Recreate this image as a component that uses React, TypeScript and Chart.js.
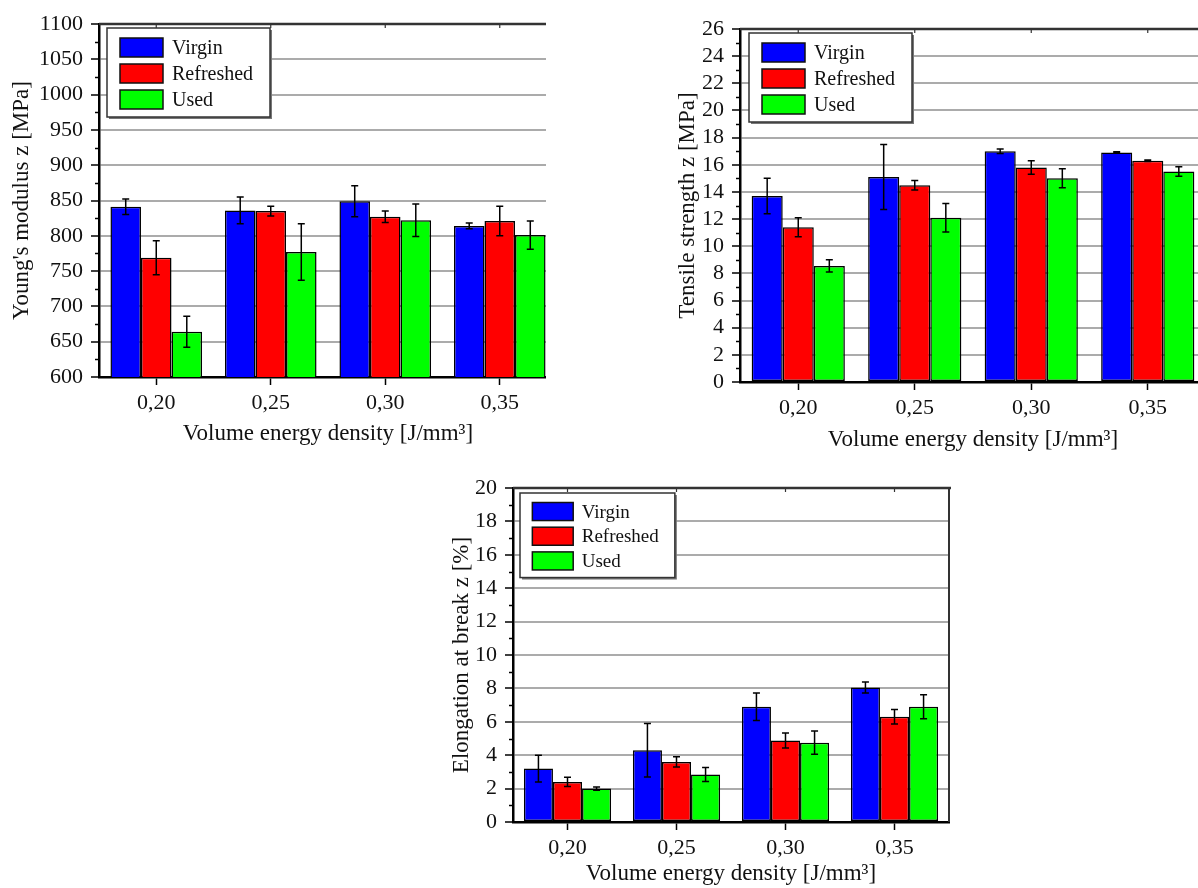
import React, { useEffect, useRef } from 'react';
import { Chart, registerables } from 'chart.js';

Chart.register(...registerables);

// ---- data ----
const categories = ['0,20', '0,25', '0,30', '0,35'];
const seriesNames = ['Virgin', 'Refreshed', 'Used'];
const seriesColors = ['#0000ff', '#ff0000', '#00ff00'];
const xTitle = 'Volume energy density [J/mm³]';

// Young's modulus [MPa]
const modulusVirgin = [841, 836, 849, 814];
const modulusRefreshed = [769, 835, 827, 821];
const modulusUsed = [664, 777, 822, 801];
const modulusVirginErr = [11, 19, 22, 4];
const modulusRefreshedErr = [24, 7, 8, 21];
const modulusUsedErr = [22, 40, 23, 20];

// Tensile strength [MPa]
const tensileVirgin = [13.7, 15.1, 17.0, 16.9];
const tensileRefreshed = [11.4, 14.5, 15.8, 16.3];
const tensileUsed = [8.55, 12.1, 15.0, 15.5];
const tensileVirginErr = [1.3, 2.4, 0.17, 0.05];
const tensileRefreshedErr = [0.7, 0.35, 0.5, 0.05];
const tensileUsedErr = [0.45, 1.05, 0.7, 0.35];

// Elongation at break [%]
const elongVirgin = [3.2, 4.3, 6.9, 8.05];
const elongRefreshed = [2.4, 3.6, 4.88, 6.3];
const elongUsed = [2.0, 2.85, 4.75, 6.9];
const elongVirginErr = [0.8, 1.6, 0.82, 0.33];
const elongRefreshedErr = [0.28, 0.3, 0.45, 0.43];
const elongUsedErr = [0.1, 0.42, 0.7, 0.72];

const FONT = "'Liberation Serif', 'Times New Roman', serif";
const TEXT = '#111111';

type Panel = {
  key: string;
  left: number;
  top: number;
  width: number;
  height: number;
  clipWidth: number;
  yAxisWidth: number;
  xAxisHeight: number;
  padTop: number;
  padRight: number;
  yTitle: string;
  yMin: number;
  yMax: number;
  yStep: number;
  values: number[][];
  errors: number[][];
  rightFrame: boolean;
  legendScale: number;
  legendOffset: [number, number];
};

const panels: Panel[] = [
  {
    key: 'modulus',
    left: 8, top: 8, width: 553, height: 440, clipWidth: 538,
    yAxisWidth: 91, xAxisHeight: 71, padTop: 16, padRight: 4,
    yTitle: "Young's modulus z [MPa]",
    yMin: 600, yMax: 1100, yStep: 50,
    values: [modulusVirgin, modulusRefreshed, modulusUsed],
    errors: [modulusVirginErr, modulusRefreshedErr, modulusUsedErr],
    rightFrame: false, legendScale: 1, legendOffset: [8, 4],
  },
  {
    key: 'tensile',
    left: 674, top: 13, width: 536, height: 441, clipWidth: 524,
    yAxisWidth: 66, xAxisHeight: 72, padTop: 16, padRight: 4,
    yTitle: 'Tensile strength z [MPa]',
    yMin: 0, yMax: 26, yStep: 2,
    values: [tensileVirgin, tensileRefreshed, tensileUsed],
    errors: [tensileVirginErr, tensileRefreshedErr, tensileUsedErr],
    rightFrame: false, legendScale: 1, legendOffset: [9, 4],
  },
  {
    key: 'elongation',
    left: 448, top: 472, width: 505, height: 416, clipWidth: 505,
    yAxisWidth: 65, xAxisHeight: 66, padTop: 16, padRight: 4,
    yTitle: 'Elongation at break z [%]',
    yMin: 0, yMax: 20, yStep: 2,
    values: [elongVirgin, elongRefreshed, elongUsed],
    errors: [elongVirginErr, elongRefreshedErr, elongUsedErr],
    rightFrame: true, legendScale: 0.95, legendOffset: [7, 5],
  },
];

// Error bars, minor ticks, frame lines and the boxed legend inside the plot.
const panelDecor = {
  id: 'panelDecor',
  afterDatasetsDraw(chart: any, _args: any, opts: any) {
    const { ctx } = chart;
    const yScale = chart.scales.y;
    ctx.save();
    ctx.strokeStyle = '#000';
    ctx.lineWidth = 1.5;
    chart.data.datasets.forEach((_ds: any, di: number) => {
      const meta = chart.getDatasetMeta(di);
      const errs: number[] = opts.errors[di];
      meta.data.forEach((bar: any, i: number) => {
        const v = chart.data.datasets[di].data[i] as number;
        const e = errs[i];
        const yt = yScale.getPixelForValue(v + e);
        const yb = yScale.getPixelForValue(v - e);
        const x = bar.x;
        const cap = 3.5;
        ctx.beginPath();
        ctx.moveTo(x, yt);
        ctx.lineTo(x, yb);
        ctx.moveTo(x - cap, yt);
        ctx.lineTo(x + cap, yt);
        ctx.moveTo(x - cap, yb);
        ctx.lineTo(x + cap, yb);
        ctx.stroke();
      });
    });
    ctx.restore();
  },
  afterDraw(chart: any, _args: any, opts: any) {
    const { ctx, chartArea: a } = chart;
    const yScale = chart.scales.y;
    const xScale = chart.scales.x;
    ctx.save();

    // minor ticks on the value axis
    ctx.strokeStyle = '#000';
    ctx.lineWidth = 1.5;
    for (let v = opts.yMin + opts.yStep / 2; v < opts.yMax; v += opts.yStep) {
      const y = Math.round(yScale.getPixelForValue(v)) + 0.5;
      ctx.beginPath();
      ctx.moveTo(a.left - 4, y);
      ctx.lineTo(a.left, y);
      ctx.stroke();
    }

    // top frame with small category ticks
    ctx.strokeStyle = '#333';
    ctx.lineWidth = 2.5;
    ctx.beginPath();
    ctx.moveTo(a.left, a.top);
    ctx.lineTo(a.right + 2, a.top);
    ctx.stroke();
    ctx.lineWidth = 1.2;
    categories.forEach((_c, i) => {
      const x = xScale.getPixelForValue(i);
      ctx.beginPath();
      ctx.moveTo(x, a.top);
      ctx.lineTo(x, a.top + 4);
      ctx.stroke();
    });

    if (opts.rightFrame) {
      ctx.strokeStyle = '#333';
      ctx.lineWidth = 2;
      ctx.beginPath();
      ctx.moveTo(a.right, a.top);
      ctx.lineTo(a.right, a.bottom);
      ctx.stroke();
    }

    // legend box
    const s = opts.legendScale;
    const bx = a.left + opts.legendOffset[0];
    const by = a.top + opts.legendOffset[1];
    const bw = 163 * s;
    const bh = 89 * s;
    ctx.fillStyle = '#777';
    ctx.fillRect(bx + 2, by + 2, bw, bh);
    ctx.fillStyle = '#fff';
    ctx.fillRect(bx, by, bw, bh);
    ctx.strokeStyle = '#333';
    ctx.lineWidth = 1.5;
    ctx.strokeRect(bx, by, bw, bh);
    chart.data.datasets.forEach((ds: any, i: number) => {
      const sx = bx + 13 * s;
      const sy = by + (10 + 26 * i) * s;
      const sw = 43 * s;
      const sh = 19 * s;
      ctx.fillStyle = ds.backgroundColor;
      ctx.fillRect(sx, sy, sw, sh);
      ctx.strokeStyle = '#111';
      ctx.lineWidth = 1.5;
      ctx.strokeRect(sx, sy, sw, sh);
      ctx.fillStyle = TEXT;
      ctx.font = `${Math.round(20 * s)}px ${FONT}`;
      ctx.textBaseline = 'middle';
      ctx.textAlign = 'left';
      ctx.fillText(ds.label, bx + 65 * s, sy + sh / 2 + 1);
    });
    ctx.restore();
  },
};

function BarPanel({ p }: { p: Panel }) {
  const ref = useRef<HTMLCanvasElement>(null);
  useEffect(() => {
    const canvas = ref.current;
    if (!canvas) return;
    const chart = new Chart(canvas, {
      type: 'bar',
      data: {
        labels: categories,
        datasets: seriesNames.map((name, i) => ({
          label: name,
          data: p.values[i],
          backgroundColor: seriesColors[i],
          borderColor: '#000',
          borderWidth: 1.5,
          borderSkipped: false,
          categoryPercentage: 0.8,
          barPercentage: 1,
        })),
      },
      options: {
        responsive: false,
        animation: false,
        devicePixelRatio: 1,
        layout: { padding: { top: p.padTop, right: p.padRight, left: 0, bottom: 0 } },
        plugins: {
          legend: { display: false },
          tooltip: { enabled: false },
          panelDecor: {
            errors: p.errors,
            yMin: p.yMin,
            yMax: p.yMax,
            yStep: p.yStep,
            rightFrame: p.rightFrame,
            legendScale: p.legendScale,
            legendOffset: p.legendOffset,
          },
        } as any,
        scales: {
          x: {
            type: 'category',
            afterFit: (s: any) => {
              s.height = p.xAxisHeight;
              s.paddingLeft = 0;
              s.paddingRight = 0;
            },
            grid: {
              display: true,
              drawOnChartArea: false,
              drawTicks: true,
              offset: false,
              tickLength: 8,
              tickColor: '#000',
              tickWidth: 1.5,
            },
            border: { display: true, color: '#000', width: 2.5 },
            ticks: {
              color: TEXT,
              font: { family: FONT, size: 22 },
              padding: 5,
              maxRotation: 0,
              autoSkip: false,
            },
            title: {
              display: true,
              text: xTitle,
              color: TEXT,
              font: { family: FONT, size: 23 },
              padding: { top: 0, bottom: 0 },
            },
          },
          y: {
            min: p.yMin,
            max: p.yMax,
            afterFit: (s: any) => {
              s.width = p.yAxisWidth;
              s.paddingTop = 0;
              s.paddingBottom = 0;
            },
            grid: {
              color: '#ababab',
              lineWidth: 2,
              drawTicks: true,
              tickColor: '#000',
              tickLength: 8,
              tickWidth: 1.5,
            },
            border: { display: true, color: '#000', width: 2.5 },
            ticks: {
              stepSize: p.yStep,
              autoSkip: false,
              color: TEXT,
              font: { family: FONT, size: 22 },
              padding: 8,
              callback: (v: any) => String(v),
            },
            title: {
              display: true,
              text: p.yTitle,
              color: TEXT,
              font: { family: FONT, size: 23 },
              padding: { top: 0, bottom: 0 },
            },
          },
        },
      },
      plugins: [panelDecor],
    } as any);
    return () => chart.destroy();
  }, [p]);
  return (
    <canvas
      ref={ref}
      width={p.width}
      height={p.height}
      style={{ display: 'block', width: p.width, height: p.height }}
    />
  );
}

export default function App() {
  return (
    <div
      style={{
        position: 'fixed',
        left: 0,
        top: 0,
        width: 1198,
        height: 888,
        background: '#fff',
        overflow: 'hidden',
      }}
    >
      {panels.map((p) => (
        <div
          key={p.key}
          style={{
            position: 'absolute',
            left: p.left,
            top: p.top,
            width: p.clipWidth,
            height: p.height,
            overflow: 'hidden',
          }}
        >
          <BarPanel p={p} />
        </div>
      ))}
    </div>
  );
}
